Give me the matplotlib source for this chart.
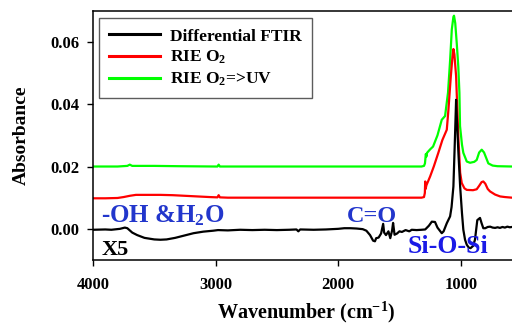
import matplotlib
matplotlib.use("Agg")
import matplotlib.pyplot as plt

plt.rcParams["font.family"] = ["Liberation Serif", "DejaVu Serif"]
plt.rcParams["font.weight"] = "bold"
plt.rcParams["mathtext.fontset"] = "custom"
plt.rcParams["mathtext.rm"] = "Liberation Serif:bold"
plt.rcParams["mathtext.it"] = "Liberation Serif:bold:italic"
plt.rcParams["mathtext.bf"] = "Liberation Serif:bold"
plt.rcParams["mathtext.default"] = "rm"

# Differential FTIR spectrum (x5)
wn_diff = [4000, 3900, 3850, 3780, 3740, 3720, 3680, 3640, 3580, 3500, 3450, 3400,
           3330, 3290, 3230, 3180, 3100, 3020, 2980, 2900, 2800, 2700, 2600, 2500,
           2400, 2340, 2325, 2310, 2200, 2100, 2000, 1950, 1900, 1850, 1800, 1770,
           1740, 1715, 1700, 1690, 1670, 1650, 1633, 1625, 1610, 1590, 1575, 1560,
           1552, 1540, 1520, 1500, 1480, 1450, 1420, 1400, 1360, 1320, 1290, 1260,
           1236, 1210, 1190, 1155, 1140, 1114, 1087, 1075, 1060, 1047, 1038, 1030,
           1019, 1005, 990, 979, 965, 951, 935, 920, 900, 884, 875, 865, 843, 830,
           816, 800, 780, 760, 740, 720, 700, 680, 660, 640, 620, 600, 582]
abs_diff = [-0.0003, -0.0002, -0.0003, 0.0000, 0.0004, 0.0002, -0.0012, -0.0020,
            -0.0029, -0.0034, -0.0035, -0.0034, -0.0029, -0.0025, -0.0019, -0.0014,
            -0.0009, -0.0006, -0.0004, -0.0005, -0.0003, -0.0004, -0.0003, -0.0004,
            -0.0003, -0.0002, -0.0008, -0.0002, -0.0003, -0.0002, 0.0000, 0.0002,
            0.0002, 0.0001, -0.0001, -0.0006, -0.0020, -0.0038, -0.0040, -0.0030,
            -0.0028, -0.0015, 0.0016, -0.0012, -0.0020, -0.0008, -0.0030, -0.0005,
            0.0019, -0.0019, -0.0015, -0.0008, -0.0010, -0.0004, -0.0008, -0.0003,
            -0.0004, -0.0003, -0.0002, 0.0010, 0.0023, 0.0022, 0.0004, -0.0014,
            -0.0008, 0.0018, 0.0040, 0.0070, 0.0136, 0.0296, 0.0414, 0.0340,
            0.0243, 0.0136, 0.0050, -0.0003, -0.0035, -0.0051, -0.0060, -0.0062,
            -0.0055, -0.0035, -0.0005, 0.0028, 0.0035, 0.0018, 0.0002, 0.0002,
            0.0006, 0.0007, 0.0004, 0.0003, 0.0005, 0.0003, 0.0006, 0.0004, 0.0007,
            0.0005, 0.0006]

# RIE O2 spectrum
wn_rie = [4000, 3900, 3800, 3750, 3700, 3650, 3550, 3450, 3350, 3250, 3150, 3050,
          2985, 2975, 2965, 2900, 2500, 2000, 1500, 1320, 1300, 1293, 1290, 1287,
          1280, 1250, 1220, 1183, 1150, 1114, 1101, 1081, 1068, 1060, 1052, 1038,
          1020, 1005, 992, 970, 951, 900, 870, 850, 830, 816, 800, 780, 761, 720,
          679, 640, 582]
abs_rie = [0.0098, 0.0098, 0.0099, 0.0102, 0.0106, 0.0109, 0.0109, 0.0109, 0.0108,
           0.0106, 0.0104, 0.0102, 0.0101, 0.0108, 0.0101, 0.0100, 0.0100, 0.0100,
           0.0100, 0.0100, 0.0102, 0.0115, 0.0152, 0.0128, 0.0140, 0.0168, 0.0200,
           0.0244, 0.0285, 0.0318, 0.0380, 0.0490, 0.0550, 0.0577, 0.0560, 0.0490,
           0.0296, 0.0180, 0.0147, 0.0130, 0.0125, 0.0124, 0.0127, 0.0138, 0.0150,
           0.0152, 0.0145, 0.0128, 0.0120, 0.0110, 0.0104, 0.0102, 0.0100]

# RIE O2 followed by UV spectrum
wn_uv = [4000, 3800, 3720, 3700, 3680, 3500, 3300, 3000, 2985, 2975, 2965, 2500,
         2000, 1500, 1320, 1300, 1292, 1285, 1280, 1275, 1250, 1226, 1190, 1155,
         1128, 1104, 1087, 1073, 1060, 1055, 1045, 1033, 1020, 1011, 1006, 990,
         979, 951, 924, 890, 870, 850, 829, 810, 790, 775, 740, 700, 582]
abs_uv = [0.0200, 0.0200, 0.0202, 0.0206, 0.0202, 0.0202, 0.0201, 0.0200, 0.0200,
          0.0206, 0.0200, 0.0200, 0.0200, 0.0200, 0.0200, 0.0202, 0.0210, 0.0240,
          0.0232, 0.0244, 0.0255, 0.0264, 0.0300, 0.0350, 0.0362, 0.0437, 0.0540,
          0.0640, 0.0680, 0.0684, 0.0660, 0.0597, 0.0520, 0.0437, 0.0330, 0.0270,
          0.0244, 0.0216, 0.0212, 0.0215, 0.0221, 0.0245, 0.0254, 0.0245, 0.0225,
          0.0210, 0.0203, 0.0201, 0.0200]

series_labels = ["Differential FTIR", "RIE O$_{2}$", "RIE O$_{2}$=>UV"]
series_colors = ["#000000", "#ff0000", "#00ff00"]
x_ticks = [4000, 3000, 2000, 1000]
y_ticks = [0.00, 0.02, 0.04, 0.06]

fig = plt.figure(figsize=(5.12, 3.24), dpi=100)
ax = fig.add_axes([93 / 512, 64 / 324, 1 - 93 / 512, 249.3 / 324])

lw = 1.6
l_uv, = ax.plot(wn_uv, abs_uv, color=series_colors[2], lw=lw)
l_rie, = ax.plot(wn_rie, abs_rie, color=series_colors[1], lw=lw)
l_diff, = ax.plot(wn_diff, abs_diff, color=series_colors[0], lw=lw)

ax.set_xlim(4000, 582)
ax.set_ylim(-0.01, 0.07)
ax.set_xticks(x_ticks)
ax.set_xticklabels([str(t) for t in x_ticks])
ax.set_yticks(y_ticks)
ax.set_yticklabels([f"{t:.2f}" for t in y_ticks])
ax.tick_params(direction="out", length=4, width=1, labelsize=12)
ax.tick_params(axis="x", pad=8)
ax.tick_params(axis="y", pad=6)
for side in ["left", "bottom", "top"]:
    ax.spines[side].set_linewidth(1.1)
ax.spines["right"].set_visible(False)

ax.set_xlabel("Wavenumber (cm$^{-1}$)", fontsize=14.5, fontweight="bold")
ax.set_ylabel("Absorbance", fontsize=14, fontweight="bold")
ax.xaxis.set_label_coords(0.5095, -0.158)
ax.yaxis.set_label_coords(-0.15, 0.5)

leg = ax.legend([l_diff, l_rie, l_uv], series_labels, loc="upper left",
                bbox_to_anchor=(0.0143, 0.9707), borderaxespad=0,
                fontsize=12.5, handlelength=2.9, handletextpad=0.6,
                labelspacing=0.25, fancybox=False, frameon=True,
                borderpad=0.6)
leg.get_frame().set_edgecolor("#333333")
leg.get_frame().set_linewidth(1.0)
for h in leg.get_lines():
    h.set_linewidth(2.2)

ax.text(3932, 0.0020, "-OH &H$_{2}$O", color="#2236cc", fontsize=18,
        fontweight="bold", ha="left", va="baseline")
ax.text(1929, 0.0023, "C=O", color="#2236cc", fontsize=17.5,
        fontweight="bold", ha="left", va="baseline")
ax.text(1430, -0.0078, "Si-O-Si", color="#1a1ae6", fontsize=18.5,
        fontweight="bold", ha="left", va="baseline")
ax.text(3932, -0.0083, "X5", color="#000000", fontsize=16,
        fontweight="bold", ha="left", va="baseline")

fig.savefig("out.png", dpi=100)
